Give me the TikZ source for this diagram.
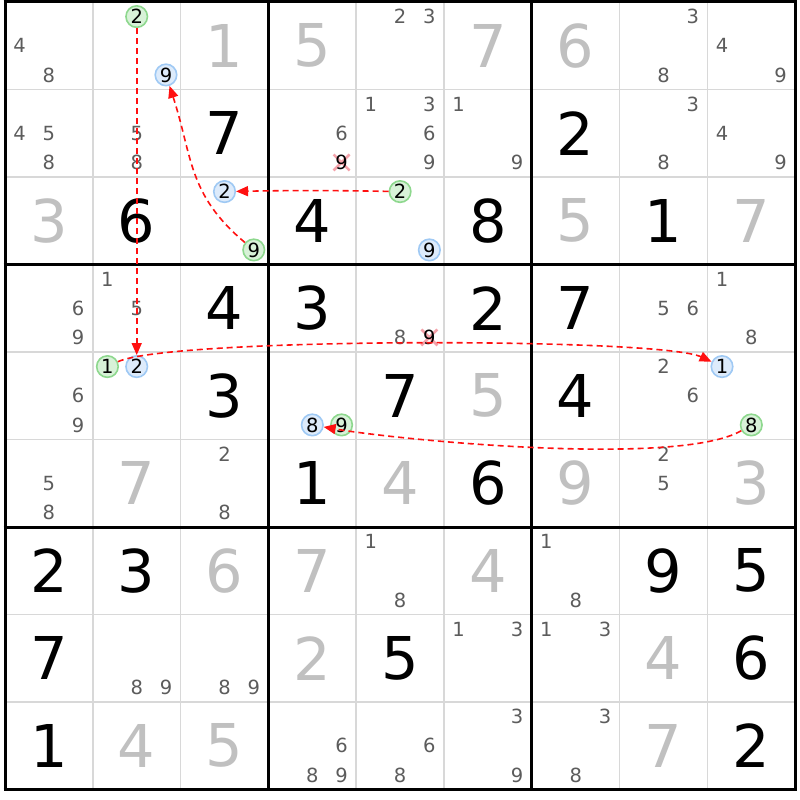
\documentclass[tikz,border=0pt]{standalone}
\usepackage{fontspec}
\setmainfont{DejaVu Sans}
\usetikzlibrary{arrows.meta}
\definecolor{candc}{HTML}{5C5C5C}
\definecolor{solvc}{HTML}{C0C0C0}
\definecolor{gridc}{HTML}{D8D8D8}
\definecolor{grnb}{HTML}{8ED88E}
\definecolor{grnf}{HTML}{D8F2D8}
\definecolor{blub}{HTML}{9FC9F4}
\definecolor{bluf}{HTML}{DDEBFB}
\definecolor{xred}{HTML}{F4A2AA}
\definecolor{arrc}{HTML}{FF1010}
\tikzset{
  givendig/.style={inner sep=0pt, font=\fontsize{59}{60}\selectfont, text=black},
  solvdig/.style={givendig, text=solvc},
  canddig/.style={inner sep=0pt, font=\fontsize{19.5}{20}\selectfont, text=candc},
  elimdig/.style={canddig, text=black},
  circg/.style={circle, draw=grnb, fill=grnf, line width=1.6pt, minimum size=21.5pt, inner sep=0pt, font=\fontsize{19.5}{20}\selectfont, text=black},
  circb/.style={circg, draw=blub, fill=bluf},
  gridline/.style={draw=gridc, line width=1.5pt},
  boxline/.style={draw=black, line width=3pt},
  xmark/.style={draw=xred, line width=2.6pt},
  link/.style={color=arrc, draw=arrc, line width=1.6pt, dash pattern=on 6pt off 4pt, -{Triangle[length=12pt,width=10pt]}}
}
\newcommand\gv[3]{\pgfmathsetmacro\px{5+(#2-0.5)*87.8}\pgfmathsetmacro\py{2+(#1-0.5)*87.5}\node[givendig] (v#1#2) at (\px,\py) {#3};}
\newcommand\sv[3]{\pgfmathsetmacro\px{5+(#2-0.5)*87.8}\pgfmathsetmacro\py{2+(#1-0.5)*87.5}\node[solvdig] (v#1#2) at (\px,\py) {#3};}
\newcommand\cd[3]{\foreach \d in {#3}{\pgfmathsetmacro\px{5+(#2-1)*87.8+(mod(\d-1,3)+0.5)*29.27}\pgfmathsetmacro\py{2+(#1-1)*87.5+(floor((\d-1)/3)+0.5)*29.17}\node[canddig] (k#1#2\d) at (\px,\py) {\d};}}
\newcommand\cc[4]{\pgfmathsetmacro\px{5+(#3-1)*87.8+(mod(#4-1,3)+0.5)*29.27}\pgfmathsetmacro\py{2+(#2-1)*87.5+(floor((#4-1)/3)+0.5)*29.17}\node[#1] (k#2#3#4) at (\px,\py) {#4};}
\newcommand\xd[3]{\pgfmathsetmacro\px{5+(#2-1)*87.8+(mod(#3-1,3)+0.5)*29.27}\pgfmathsetmacro\py{2+(#1-1)*87.5+(floor((#3-1)/3)+0.5)*29.17}\draw[xmark] (\px-8,\py-8) -- (\px+8,\py+8) (\px-8,\py+8) -- (\px+8,\py-8);\node[elimdig] (k#1#2#3) at (\px,\py) {#3};}
\begin{document}
\begin{tikzpicture}[x=1pt,y=-1pt]
\fill[white] (0,0) rectangle (800,800);
\useasboundingbox (0,0) rectangle (800,800);
% grid
\foreach \i in {1,2,4,5,7,8} {
  \draw[gridline] ({5+\i*87.8},2) -- ({5+\i*87.8},789.5);
  \draw[gridline] (5,{2+\i*87.5}) -- (795.2,{2+\i*87.5});
}
\foreach \i in {0,3,6,9} {
  \draw[boxline] ({5+\i*87.8},0.5) -- ({5+\i*87.8},791);
  \draw[boxline] (3.5,{2+\i*87.5}) -- (796.7,{2+\i*87.5});
}
% given digits
\gv{2}{3}{7}\gv{2}{7}{2}
\gv{3}{2}{6}\gv{3}{4}{4}\gv{3}{6}{8}\gv{3}{8}{1}
\gv{4}{3}{4}\gv{4}{4}{3}\gv{4}{6}{2}\gv{4}{7}{7}
\gv{5}{3}{3}\gv{5}{5}{7}\gv{5}{7}{4}
\gv{6}{4}{1}\gv{6}{6}{6}
\gv{7}{1}{2}\gv{7}{2}{3}\gv{7}{8}{9}\gv{7}{9}{5}
\gv{8}{1}{7}\gv{8}{5}{5}\gv{8}{9}{6}
\gv{9}{1}{1}\gv{9}{9}{2}
% solved digits
\sv{1}{3}{1}\sv{1}{4}{5}\sv{1}{6}{7}\sv{1}{7}{6}
\sv{3}{1}{3}\sv{3}{7}{5}\sv{3}{9}{7}
\sv{5}{6}{5}
\sv{6}{2}{7}\sv{6}{5}{4}\sv{6}{7}{9}\sv{6}{9}{3}
\sv{7}{3}{6}\sv{7}{4}{7}\sv{7}{6}{4}
\sv{8}{4}{2}\sv{8}{8}{4}
\sv{9}{2}{4}\sv{9}{3}{5}\sv{9}{8}{7}
% candidates
\cd{1}{1}{4,8}\cd{1}{5}{2,3}\cd{1}{8}{3,8}\cd{1}{9}{4,9}
\cd{2}{1}{4,5,8}\cd{2}{2}{5,8}\cd{2}{4}{6}\cd{2}{5}{1,3,6,9}\cd{2}{6}{1,9}\cd{2}{8}{3,8}\cd{2}{9}{4,9}
\cd{4}{1}{6,9}\cd{4}{2}{1,5}\cd{4}{5}{8}\cd{4}{8}{5,6}\cd{4}{9}{1,8}
\cd{5}{1}{6,9}\cd{5}{8}{2,6}
\cd{6}{1}{5,8}\cd{6}{3}{2,8}\cd{6}{8}{2,5}
\cd{7}{5}{1,8}\cd{7}{7}{1,8}
\cd{8}{2}{8,9}\cd{8}{3}{8,9}\cd{8}{6}{1,3}\cd{8}{7}{1,3}
\cd{9}{4}{6,8,9}\cd{9}{5}{6,8}\cd{9}{6}{3,9}\cd{9}{7}{3,8}
% eliminated
\xd{2}{4}{9}\xd{4}{5}{9}
% highlighted candidates
\cc{circg}{1}{2}{2}\cc{circb}{1}{2}{9}
\cc{circb}{3}{3}{2}\cc{circg}{3}{3}{9}
\cc{circg}{3}{5}{2}\cc{circb}{3}{5}{9}
\cc{circg}{5}{2}{1}\cc{circb}{5}{2}{2}
\cc{circb}{5}{4}{8}\cc{circg}{5}{4}{9}
\cc{circb}{5}{9}{1}\cc{circg}{5}{9}{8}
% links
\draw[link] (k122) -- (k522);
\draw[link] (k352) to[bend right=1] (k332);
\draw[link] (k339) to[out=140,in=-72,looseness=1.1] (k129);
\draw[link] (k521) to[out=25,in=155,looseness=0.25] (k591);
\draw[link] (k598) to[out=210,in=-10,looseness=0.45] (k548);
\end{tikzpicture}
\end{document}
